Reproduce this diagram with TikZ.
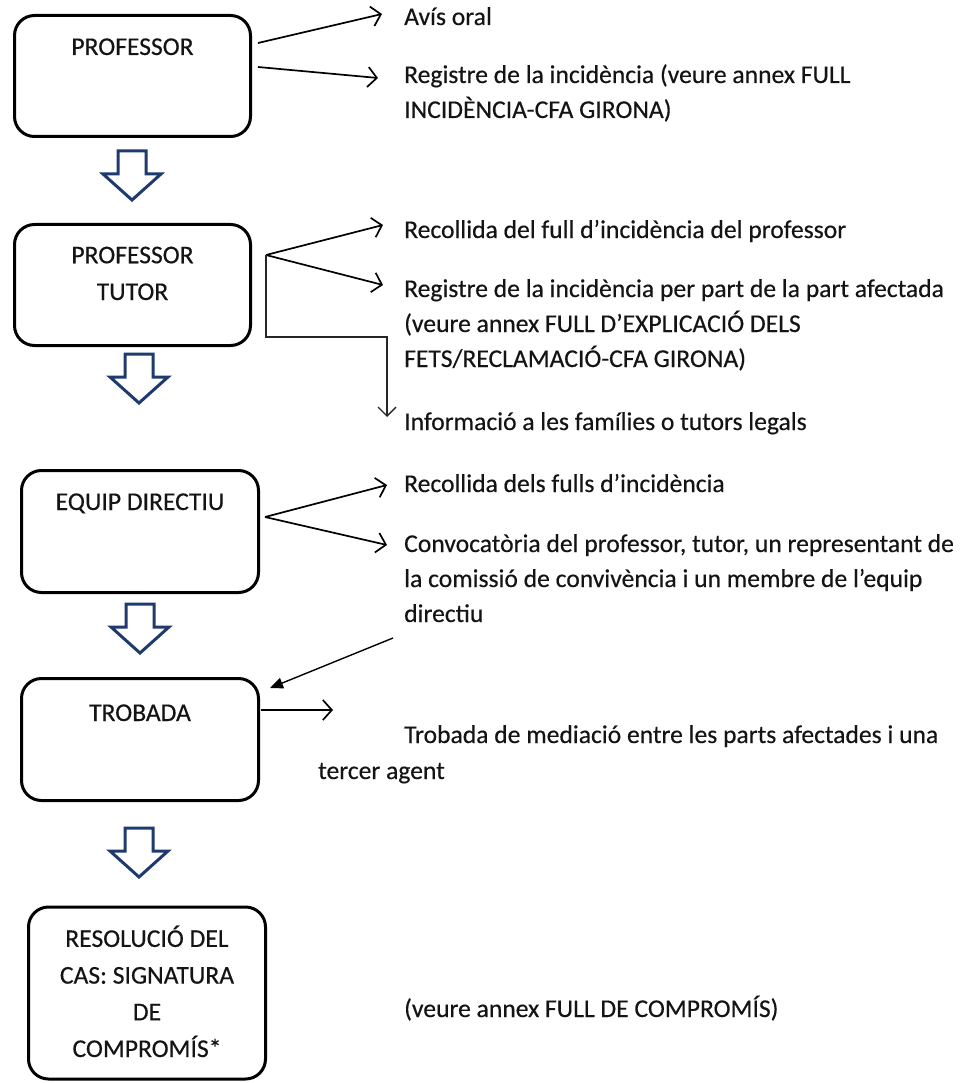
\documentclass[tikz,border=0pt]{standalone}
\usepackage{fontspec}
\setmainfont{Carlito}[FakeBold=0.4]
\usetikzlibrary{arrows.meta}
\definecolor{navy}{HTML}{1F3A6E}
\definecolor{ink}{HTML}{141414}

\tikzset{
  stage/.style={draw=black, line width=3pt, rounded corners=20pt, inner sep=0pt},
  stagetext/.style={anchor=base, inner sep=0pt, align=center, text=ink,
    font=\fontsize{25.6}{36.7}\selectfont},
  note/.style={anchor=base west, inner sep=0pt, align=left, text=ink,
    font=\fontsize{25.6}{35}\selectfont},
  link/.style={draw=black, line width=1.7pt, -{Straight Barb[length=9pt,width=20pt,line width=1.7pt]}},
  elbow/.style={draw=black!85, line width=1.3pt, -{Straight Barb[length=9pt,width=18pt,line width=1.4pt]}},
  feedback/.style={draw=black, line width=1.4pt, -{Triangle[length=13pt,width=11pt]}},
  pics/flowdown/.style={code={
    \draw[navy, line width=3pt, line join=miter, fill=white]
      (-14,0) -- (14,0) -- (14,23) -- (29,23) -- (0,49) -- (-29,23) -- (-14,23) -- cycle;}}
}

\begin{document}
\begin{tikzpicture}[x=1pt,y=-1pt]
\useasboundingbox (0,0) rectangle (967,1083);

% stage boxes
\node[stage, minimum width=236pt, minimum height=121pt] (b1) at (132.5,76) {};
\node[stage, minimum width=236pt, minimum height=121pt] (b2) at (132.5,285) {};
\node[stage, minimum width=237pt, minimum height=122pt] (b3) at (140,531.5) {};
\node[stage, minimum width=237pt, minimum height=122pt] (b4) at (140,739.5) {};
\node[stage, minimum width=237pt, minimum height=172pt] (b5) at (147,993) {};

% stage titles (a multi-line node sits on the baseline of its last line)
\node[stagetext] (t1) at (132.5,55) {PROFESSOR};
\node[stagetext] (t2) at (132.5,300) {PROFESSOR\\TUTOR};
\node[stagetext] (t3) at (140,510) {EQUIP DIRECTIU};
\node[stagetext] (t4) at (140,721) {TROBADA};
\node[stagetext] (t5) at (147,1057) {RESOLUCIÓ DEL\\CAS: SIGNATURA\\DE\\COMPROMÍS*};

% hollow arrows between stages
\pic (a1) at (132,151) {flowdown};
\pic (a2) at (139,354) {flowdown};
\pic (a3) at (140,604) {flowdown};
\pic (a4) at (139,828) {flowdown};

% actions
\node[note] (n1) at (404,25) {Avís oral};
\node[note] (n2) at (404,118) {Registre de la incidència (veure annex FULL\\INCIDÈNCIA-CFA GIRONA)};
\node[note] (n3) at (404,238) {Recollida del full d’incidència del professor};
\node[note] (n4) at (404,367) {Registre de la incidència per part de la part afectada\\(veure annex FULL D’EXPLICACIÓ DELS\\FETS/RECLAMACIÓ-CFA GIRONA)};
\node[note] (n5) at (404,430) {Informació a les famílies o tutors legals};
\node[note] (n6) at (404,492) {Recollida dels fulls d’incidència};
\node[note] (n7) at (404,622) {Convocatòria del professor, tutor, un representant de\\la comissió de convivència i un membre de l’equip\\directiu};
\node[note] (n8) at (404,743) {Trobada de mediació entre les parts afectades i una};
\node[note] (n9) at (318,779) {tercer agent};
\node[note] (n10) at (404,1017) {(veure annex FULL DE COMPROMÍS)};

% connector end points
\coordinate (s1a) at (258,43);
\coordinate (e1a) at (382,14);
\coordinate (s1b) at (258,67);
\coordinate (e1b) at (378,78);
\coordinate (s2) at (266,255);
\coordinate (e2a) at (383,225);
\coordinate (e2b) at (383,285);
\coordinate (k2) at (266,337);
\coordinate (k3) at (387,337);
\coordinate (e2c) at (387,417);
\coordinate (s3) at (265,517);
\coordinate (e3a) at (387,485);
\coordinate (e3b) at (387,545);
\coordinate (f1) at (393,638);
\coordinate (f2) at (270,688);
\coordinate (s4) at (261,710);
\coordinate (e4) at (333,710);

% connectors
\draw[link] (s1a) -- (e1a);
\draw[link] (s1b) -- (e1b);
\draw[link] (s2) -- (e2a);
\draw[link] (s2) -- (e2b);
\draw[elbow] (s2) -- (k2) -- (k3) -- (e2c);
\draw[link] (s3) -- (e3a);
\draw[link] (s3) -- (e3b);
\draw[feedback] (f1) -- (f2);
\draw[link, line width=1.3pt] (s4) -- (e4);
\end{tikzpicture}
\end{document}
